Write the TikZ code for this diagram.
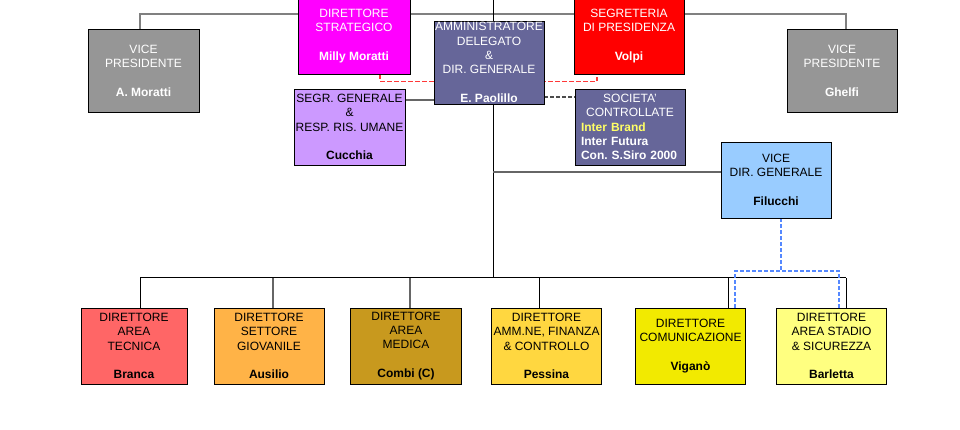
\documentclass[tikz,border=0pt]{standalone}
\usepackage{fontspec}
\setmainfont{Liberation Sans}
\usetikzlibrary{backgrounds}
\definecolor{vpgray}{HTML}{969696}
\definecolor{magen}{HTML}{FF00FF}
\definecolor{ammblue}{HTML}{666699}
\definecolor{segred}{HTML}{FF0000}
\definecolor{sgrlil}{HTML}{CC99FF}
\definecolor{vdgblue}{HTML}{99CCFF}
\definecolor{brared}{HTML}{FF6666}
\definecolor{ausor}{HTML}{FFB347}
\definecolor{comgold}{HTML}{C8991E}
\definecolor{pesyel}{HTML}{FFD740}
\definecolor{vigyel}{HTML}{F2EA00}
\definecolor{brlyel}{HTML}{FFFF80}
\definecolor{brandyel}{HTML}{FFFF66}
\definecolor{lngray}{HTML}{808080}
\definecolor{dashred}{HTML}{FF3838}
\definecolor{dashblue}{HTML}{5588FF}
\begin{document}
\frenchspacing
\begin{tikzpicture}[x=1pt,y=-1pt,
  box/.style={draw=black, line width=0.8pt, inner sep=0pt, align=center,
    font=\fontsize{12}{14.3}\selectfont, minimum width=110pt, minimum height=76pt},
  gline/.style={draw=lngray, line width=1.4pt},
  kline/.style={draw=black, line width=1pt},
  mline/.style={draw=black!60, line width=1.3pt},
  rdash/.style={draw=dashred, line width=1.7pt, dash pattern=on 4.5pt off 2.5pt},
  kdash/.style={draw=black!70, line width=1.2pt, dash pattern=on 4pt off 2pt},
  bdash/.style={draw=dashblue, line width=1.4pt, dash pattern=on 4pt off 2pt}]
\useasboundingbox (0,0) rectangle (960,429);
\coordinate (topbar) at (493,14);
\coordinate (top0) at (493,0);
\coordinate (barc) at (493,277.5);
\coordinate (bj) at (781,271);

% boxes
\node[box, fill=vpgray, text=white, minimum width=111pt, minimum height=83pt] (vpa) at (143.5,70.5) {VICE\\PRESIDENTE\\[14.3pt]\textbf{A. Moratti}};
\node[box, fill=vpgray, text=white, minimum height=83pt] (vpg) at (842,70.5) {VICE\\PRESIDENTE\\[14.3pt]\textbf{Ghelfi}};
\node[box, fill=magen, text=white, minimum width=112pt] (ds) at (354,36) {DIRETTORE\\STRATEGICO\\[14.3pt]\textbf{Milly Moratti}};
\node[box, fill=ammblue, text=white, minimum height=83pt] (amm) at (489,62.5) {AMMINISTRATORE\\DELEGATO\\\&\\DIR. GENERALE\\[14.3pt]\textbf{E. Paolillo}};
\node[box, fill=segred, text=white] (seg) at (629,36) {SEGRETERIA\\DI PRESIDENZA\\[14.3pt]\textbf{Volpi}};
\node[box, fill=sgrlil, minimum width=111pt] (sgr) at (349.5,127) {SEGR. GENERALE\\\&\\RESP. RIS. UMANE\\[14.3pt]\textbf{Cucchia}};
\node[box, fill=ammblue, text=white, align=left, text width=98pt] (soc) at (630,127) {\makebox[98pt]{SOCIETA'}\\\makebox[98pt]{CONTROLLATE}\\\textcolor{brandyel}{\textbf{Inter Brand}}\\\textbf{Inter Futura}\\\mbox{\textbf{Con. S.Siro 2000}}};
\node[box, fill=vdgblue] (vdg) at (776,180) {VICE\\DIR. GENERALE\\[14.3pt]\textbf{Filucchi}};
\node[box, fill=brared, minimum width=106pt] (bra) at (134,346) {DIRETTORE\\AREA\\TECNICA\\[14.3pt]\textbf{Branca}};
\node[box, fill=ausor] (aus) at (269,346) {DIRETTORE\\SETTORE\\GIOVANILE\\[14.3pt]\textbf{Ausilio}};
\node[box, fill=comgold, minimum width=111pt] (com) at (406,346) {DIRETTORE\\AREA\\MEDICA\\[14.3pt]\textbf{Combi (C)}};
\node[box, fill=pesyel] (pes) at (546.5,346) {DIRETTORE\\AMM.NE, FINANZA\\\& CONTROLLO\\[14.3pt]\textbf{Pessina}};
\node[box, fill=vigyel] (vig) at (690.5,346) {DIRETTORE\\COMUNICAZIONE\\[14.3pt]\textbf{Viganò}};
\node[box, fill=brlyel] (brl) at (831.5,346) {DIRETTORE\\AREA STADIO\\\& SICUREZZA\\[14.3pt]\textbf{Barletta}};

% connectors behind the boxes
\begin{pgfonlayer}{background}
\fill[white] (0,0) rectangle (960,429);
\draw[gline] ([xshift=-3.5pt]vpa.north) |- (topbar) -| ([xshift=4pt]vpg.north);
\draw[kline] (top0) -- (barc);
\draw[mline] ([yshift=27pt]sgr.east) -- ([yshift=27pt]sgr.east -| top0);
\draw[mline] ([yshift=8pt]vdg.west) -- ([yshift=8pt]vdg.west -| top0);
\draw[kline] ([xshift=6pt]bra.north |- barc) -- ([xshift=14.5pt]brl.north |- barc);
\draw[kline] ([xshift=6pt]bra.north) -- ([xshift=6pt]bra.north |- barc);
\draw[mline] ([xshift=4pt]aus.north) -- ([xshift=4pt]aus.north |- barc);
\draw[mline] ([xshift=4pt]com.north) -- ([xshift=4pt]com.north |- barc);
\draw[kline] ([xshift=-7pt]pes.north) -- ([xshift=-7pt]pes.north |- barc);
\draw[kline] ([xshift=37.5pt]vig.north) -- ([xshift=37.5pt]vig.north |- barc);
\draw[kline] ([xshift=14.5pt]brl.north) -- ([xshift=14.5pt]brl.north |- barc);
\draw[rdash] ([xshift=26pt]ds.south) -- ++(0,7) -| ([xshift=-32pt]seg.south);
\draw[kdash] ([yshift=-34.5pt]amm.east) -- ([yshift=-34.5pt]amm.east -| soc.west);
\draw[bdash] ([xshift=5pt]vdg.south) -- (bj);
\draw[bdash] ([xshift=44.5pt]vig.north) |- (bj) -| ([xshift=7.5pt]brl.north);
\end{pgfonlayer}
\end{tikzpicture}
\end{document}
